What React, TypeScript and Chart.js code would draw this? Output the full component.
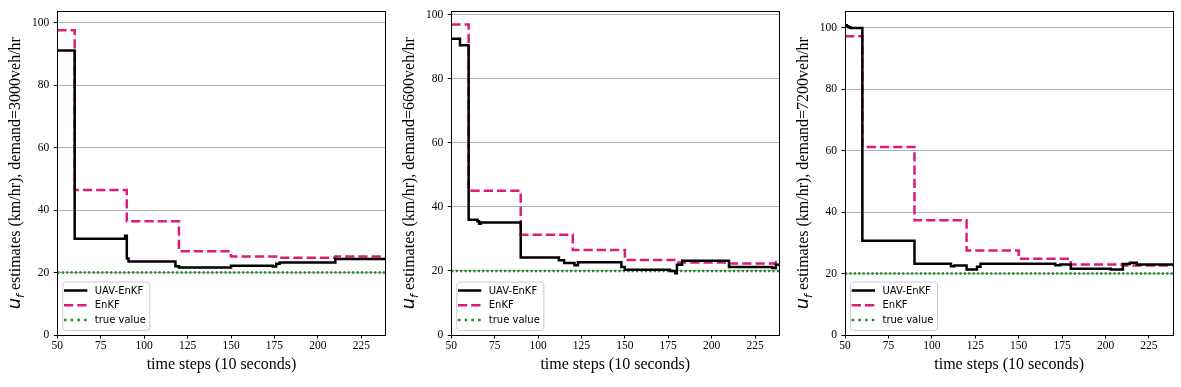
import { useEffect, useRef } from "react";
import { Chart, registerables } from "chart.js";

Chart.register(...registerables);

// ---------- data ----------
const xTicks = [50, 75, 100, 125, 150, 175, 200, 225];
const yTicks = [0, 20, 40, 60, 80, 100];
const X_MIN = 50;
const X_MAX = 239;
const TRUE_VALUE = 20;
const demands = ["3000", "6600", "7200"];
const yMaxes = [103.6, 101, 105.4];
const legendLabels = ["UAV-EnKF", "EnKF", "true value"];

// demand = 3000 veh/hr
const uav1X = [50, 60, 89, 90, 91, 118, 120, 150, 174, 176, 178, 210, 239];
const uav1Y = [91.1, 30.8, 31.8, 24.5, 23.5, 22.0, 21.6, 22.2, 21.9, 22.8, 23.2, 24.3, 24.3];
const enkf1X = [50, 60, 90, 120, 150, 178, 210, 239];
const enkf1Y = [97.6, 46.4, 36.4, 26.8, 25.1, 24.7, 25.1, 25.1];

// demand = 6600 veh/hr
const uav2X = [50, 55, 60, 65, 66, 67, 90, 112, 115, 121, 123, 148, 150, 176, 179, 180, 183, 210, 235, 237, 239];
const uav2Y = [92.5, 90.4, 36.0, 35.5, 34.7, 35.1, 24.2, 23.3, 22.5, 21.8, 22.7, 21.2, 20.4, 20.0, 19.3, 21.9, 23.2, 21.2, 20.9, 21.9, 21.9];
const enkf2X = [50, 60, 90, 120, 150, 180, 210, 237, 239];
const enkf2Y = [96.9, 45.0, 31.3, 26.5, 23.4, 22.6, 22.3, 22.7, 22.7];

// demand = 7200 veh/hr
const uav3X = [50, 51, 52, 53, 60, 90, 111, 113, 120, 126, 128, 171, 174, 180, 203, 210, 214, 218, 239];
const uav3Y = [100.9, 100.6, 100.2, 100.0, 30.7, 23.2, 22.4, 22.6, 21.3, 22.2, 23.2, 22.7, 23.0, 21.6, 21.3, 23.1, 23.5, 23.0, 23.0];
const enkf3X = [50, 60, 90, 120, 150, 180, 210, 239];
const enkf3Y = [97.3, 61.2, 37.4, 27.5, 24.8, 23.0, 22.6, 22.6];

const uavXs = [uav1X, uav2X, uav3X];
const uavYs = [uav1Y, uav2Y, uav3Y];
const enkfXs = [enkf1X, enkf2X, enkf3X];
const enkfYs = [enkf1Y, enkf2Y, enkf3Y];

// ---------- layout / style ----------
const W = 1181;
const H = 387;
const panels = [
  { left: 0, width: 393, plotLeft: 57.3, plotRight: 385.7, plotTop: 10 },
  { left: 393, width: 394, plotLeft: 451.3, plotRight: 779.3, plotTop: 10 },
  { left: 787, width: 394, plotLeft: 845, plotRight: 1173.3, plotTop: 9.3 },
];
const PLOT_BOTTOM = 335;
const BLACK = "#000000";
const PINK = "#dd1c77";
const GREEN = "#228b22";
const SERIF = "'Liberation Serif', 'Times New Roman', serif";
const SANS = "'DejaVu Sans', sans-serif";

function toPoints(xs: number[], ys: number[]) {
  return xs.map((x, i) => ({ x, y: ys[i] }));
}

function Panel({ idx }: { idx: number }) {
  const ref = useRef<HTMLCanvasElement | null>(null);
  useEffect(() => {
    const canvas = ref.current;
    if (!canvas) return;
    const p = panels[idx];
    const plotLeftLocal = p.plotLeft - p.left;
    const plotRightLocal = p.plotRight - p.left;
    const demand = demands[idx];

    const decor = {
      id: "decor" + idx,
      afterDatasetsDraw(chart: any) {
        const ctx = chart.ctx as CanvasRenderingContext2D;
        const ca = chart.chartArea;
        // frame
        ctx.save();
        ctx.strokeStyle = "#000";
        ctx.lineWidth = 1;
        ctx.strokeRect(Math.round(ca.left) + 0.5, Math.round(ca.top) + 0.5, Math.round(ca.right - ca.left), Math.round(ca.bottom - ca.top));
        ctx.restore();

        // legend
        ctx.save();
        const bx = ca.left + 5;
        const by = ca.bottom - 53.5;
        const bw = 87;
        const bh = 48.5;
        ctx.beginPath();
        (ctx as any).roundRect(bx + 0.5, by + 0.5, bw, bh, 3);
        ctx.fillStyle = "rgba(255,255,255,0.8)";
        ctx.fill();
        ctx.strokeStyle = "#cccccc";
        ctx.lineWidth = 1;
        ctx.stroke();
        const rows = [ca.bottom - 44.5, ca.bottom - 29.7, ca.bottom - 15];
        const colors = [BLACK, PINK, GREEN];
        const dashes = [[], [9.25, 4], [2.5, 4.2]];
        for (let i = 0; i < 3; i++) {
          ctx.beginPath();
          ctx.setLineDash(dashes[i]);
          ctx.lineDashOffset = 0;
          ctx.strokeStyle = colors[i];
          ctx.lineWidth = 2.5;
          ctx.lineCap = "butt";
          ctx.moveTo(ca.left + 6.7, rows[i]);
          ctx.lineTo(ca.left + 30, rows[i]);
          ctx.stroke();
          ctx.setLineDash([]);
          ctx.fillStyle = "#000";
          ctx.font = "10px " + SANS;
          ctx.textBaseline = "middle";
          ctx.textAlign = "left";
          ctx.fillText(legendLabels[i], ca.left + 37.5, rows[i] + 0.5);
        }
        ctx.restore();
      },
      afterDraw(chart: any) {
        const ctx = chart.ctx as CanvasRenderingContext2D;
        const ca = chart.chartArea;
        ctx.save();
        // x title
        ctx.fillStyle = "#000";
        ctx.font = "16px " + SERIF;
        ctx.textAlign = "center";
        ctx.textBaseline = "alphabetic";
        ctx.fillText("time steps (10 seconds)", (ca.left + ca.right) / 2, 368.5);
        // y title (rotated, with italic u and subscript f)
        const uFont = "italic 18px 'DejaVu Sans', sans-serif";
        const fFont = "italic 11px 'DejaVu Sans', sans-serif";
        const restFont = "16px " + SERIF;
        const rest = " estimates (km/hr), demand=" + demand + "veh/hr";
        ctx.font = uFont;
        const wu = ctx.measureText("u").width;
        ctx.font = fFont;
        const wf = ctx.measureText("f").width;
        ctx.font = restFont;
        const wr = ctx.measureText(rest).width;
        const total = wu + wf + wr;
        const cy = (ca.top + ca.bottom) / 2;
        const baseX = ca.left - 37;
        ctx.translate(baseX, cy);
        ctx.rotate(-Math.PI / 2);
        ctx.textAlign = "left";
        ctx.textBaseline = "alphabetic";
        let x = -total / 2;
        ctx.font = uFont;
        ctx.fillText("u", x, 0);
        x += wu;
        ctx.font = fFont;
        ctx.fillText("f", x, 3.5);
        x += wf;
        ctx.font = restFont;
        ctx.fillText(rest, x, 0);
        ctx.restore();
      },
    };

    const chart = new Chart(canvas, {
      type: "line",
      data: {
        datasets: [
          {
            label: legendLabels[0],
            data: toPoints(uavXs[idx], uavYs[idx]),
            borderColor: BLACK,
            borderWidth: 2.5,
            stepped: "before",
            pointRadius: 0,
            fill: false,
          },
          {
            label: legendLabels[1],
            data: toPoints(enkfXs[idx], enkfYs[idx]),
            borderColor: PINK,
            borderWidth: 2.5,
            borderDash: [9.25, 4],
            stepped: "before",
            pointRadius: 0,
            fill: false,
          },
          {
            label: legendLabels[2],
            data: [
              { x: X_MIN, y: TRUE_VALUE },
              { x: X_MAX, y: TRUE_VALUE },
            ],
            borderColor: GREEN,
            borderWidth: 2.5,
            borderDash: [2.2, 2.2],
            pointRadius: 0,
            fill: false,
          },
        ],
      },
      options: {
        responsive: false,
        animation: false,
        devicePixelRatio: 1,
        layout: {
          padding: {
            top: p.plotTop,
            right: p.width - plotRightLocal,
            left: 0,
            bottom: 0,
          },
        },
        plugins: {
          legend: { display: false },
          tooltip: { enabled: false },
        },
        scales: {
          x: {
            type: "linear",
            min: X_MIN,
            max: X_MAX,
            afterBuildTicks: (s: any) => {
              s.ticks = xTicks.map((v) => ({ value: v }));
            },
            afterFit: (s: any) => {
              s.height = H - PLOT_BOTTOM;
            },
            border: { display: false },
            grid: {
              drawOnChartArea: false,
              drawTicks: true,
              tickLength: 3.5,
              tickColor: "#000",
              tickWidth: 1,
            },
            ticks: {
              color: "#000",
              font: { family: SERIF, size: 11.5 },
              padding: 1,
              maxRotation: 0,
              autoSkip: false,
            },
          },
          y: {
            type: "linear",
            min: 0,
            max: yMaxes[idx],
            afterBuildTicks: (s: any) => {
              s.ticks = yTicks.map((v) => ({ value: v }));
            },
            afterFit: (s: any) => {
              s.width = plotLeftLocal;
            },
            border: { display: false },
            grid: {
              color: "#b0b0b0",
              lineWidth: 1,
              drawTicks: true,
              tickLength: 3.5,
              tickColor: "#000",
              tickWidth: 1,
            },
            ticks: {
              color: "#000",
              font: { family: SERIF, size: 11.5 },
              padding: 4.5,
              autoSkip: false,
            },
          },
        },
      } as any,
      plugins: [decor],
    });
    return () => chart.destroy();
  }, [idx]);

  const p = panels[idx];
  return (
    <canvas
      ref={ref}
      width={p.width}
      height={H}
      style={{ position: "absolute", left: p.left, top: 0, width: p.width, height: H, display: "block" }}
    />
  );
}

export default function App() {
  return (
    <div style={{ position: "fixed", left: 0, top: 0, width: W, height: H, background: "#fff", overflow: "hidden" }}>
      {panels.map((_, i) => (
        <Panel key={i} idx={i} />
      ))}
    </div>
  );
}
